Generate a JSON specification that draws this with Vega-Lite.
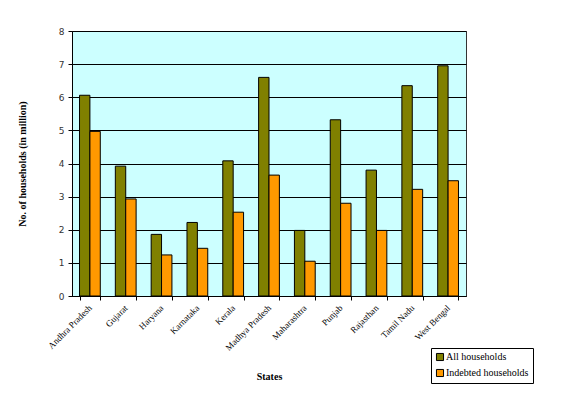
{
  "$schema": "https://vega.github.io/schema/vega-lite/v6.json",
  "width": 394,
  "height": 265,
  "padding": {"left": 17, "top": 27, "right": 5, "bottom": 5},
  "background": "white",
  "data": {
    "values": [
      {"state": "Andhra Pradesh", "type": "All households", "value": 6.06},
      {"state": "Andhra Pradesh", "type": "Indebted households", "value": 4.97},
      {"state": "Gujarat", "type": "All households", "value": 3.92},
      {"state": "Gujarat", "type": "Indebted households", "value": 2.93},
      {"state": "Haryana", "type": "All households", "value": 1.86},
      {"state": "Haryana", "type": "Indebted households", "value": 1.24},
      {"state": "Karnataka", "type": "All households", "value": 2.22},
      {"state": "Karnataka", "type": "Indebted households", "value": 1.44},
      {"state": "Kerala", "type": "All households", "value": 4.08},
      {"state": "Kerala", "type": "Indebted households", "value": 2.53},
      {"state": "Madhya Pradesh", "type": "All households", "value": 6.6},
      {"state": "Madhya Pradesh", "type": "Indebted households", "value": 3.65},
      {"state": "Maharashtra", "type": "All households", "value": 1.98},
      {"state": "Maharashtra", "type": "Indebted households", "value": 1.05},
      {"state": "Punjab", "type": "All households", "value": 5.32},
      {"state": "Punjab", "type": "Indebted households", "value": 2.8},
      {"state": "Rajasthan", "type": "All households", "value": 3.8},
      {"state": "Rajasthan", "type": "Indebted households", "value": 1.98},
      {"state": "Tamil Nadu", "type": "All households", "value": 6.35},
      {"state": "Tamil Nadu", "type": "Indebted households", "value": 3.22},
      {"state": "West Bengal", "type": "All households", "value": 6.95},
      {"state": "West Bengal", "type": "Indebted households", "value": 3.48}
    ]
  },
  "mark": {"type": "bar", "stroke": "black", "strokeWidth": 1},
  "encoding": {
    "x": {
      "field": "state",
      "type": "nominal",
      "sort": null,
      "title": "States",
      "scale": {"paddingInner": 0.42, "paddingOuter": 0.21},
      "axis": {
        "labelAngle": -45,
        "labelAlign": "right",
        "labelBaseline": "middle",
        "labelFont": "Liberation Serif",
        "labelFontSize": 9,
        "labelColor": "black",
        "labelPadding": 6,
        "tickBand": "extent",
        "tickColor": "black",
        "tickSize": 4,
        "domainColor": "black",
        "titleFont": "Liberation Serif",
        "titleFontSize": 10,
        "titleFontWeight": "bold",
        "titleColor": "black",
        "titlePadding": 19
      }
    },
    "xOffset": {"field": "type", "type": "nominal"},
    "y": {
      "field": "value",
      "type": "quantitative",
      "title": "No. of households (in million)",
      "scale": {"domain": [0, 8]},
      "axis": {
        "values": [0, 1, 2, 3, 4, 5, 6, 7, 8],
        "labelFont": "DejaVu Sans",
        "labelFontSize": 9,
        "labelColor": "#333",
        "labelPadding": 4,
        "tickColor": "black",
        "tickSize": 4,
        "domainColor": "black",
        "gridColor": "black",
        "gridOpacity": 1,
        "titleFont": "Liberation Serif",
        "titleFontSize": 10,
        "titleFontWeight": "bold",
        "titleColor": "black",
        "titlePadding": 31
      }
    },
    "color": {
      "field": "type",
      "type": "nominal",
      "title": null,
      "scale": {
        "domain": ["All households", "Indebted households"],
        "range": ["#808000", "#FF9900"]
      },
      "legend": {
        "orient": "none",
        "legendX": 359,
        "legendY": 317,
        "symbolType": "square",
        "symbolSize": 50,
        "symbolStrokeColor": "black",
        "symbolStrokeWidth": 1,
        "labelFont": "Liberation Serif",
        "labelFontSize": 10,
        "labelColor": "black",
        "labelOffset": 1,
        "rowPadding": 4,
        "strokeColor": "black",
        "padding": 4,
        "fillColor": "white"
      }
    }
  },
  "config": {
    "view": {"fill": "#CCFFFF", "stroke": "#333", "strokeWidth": 1}
  }
}
